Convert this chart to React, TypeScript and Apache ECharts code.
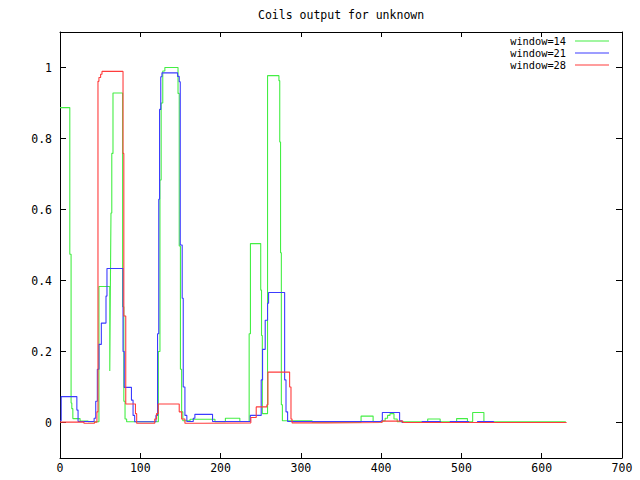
import React, { useEffect, useRef } from "react";
import * as echarts from "echarts";

const titleText = "Coils output for unknown";
const seriesNames = ["window=14", "window=21", "window=28"];
const seriesColors = ["#44ee44", "#3c3cff", "#ff3c3c"];

const xTicks = [0, 100, 200, 300, 400, 500, 600, 700];
const yTicks = [0, 0.2, 0.4, 0.6, 0.8, 1];

// step data: [x, y] = value y from x until next x
const w14: [number, number][] = [
  [0, 0.887], [12.2, 0.474], [13.8, 0.055], [14.7, 0.039], [16, 0.011], [25, 0.004], [35, 0.002],
  [48.5, 0.383], [62, 0.145], [62.7, 0.368], [63.5, 0.59], [64.5, 0.758], [66, 0.928],
  [78, 0.326], [79.5, 0.06], [81, 0.01], [83, 0.002],
  [122.5, 0.2], [124.5, 0.683], [126, 0.9], [128, 0.99], [130.6, 1.0],
  [147, 0.927], [148.5, 0.497], [150, 0.15], [151.5, 0.03], [153, 0.005],
  [162, 0.009], [193, 0.002], [206, 0.012], [224, 0.003],
  [235.6, 0.25], [237.2, 0.504], [250, 0.373], [251, 0.245], [252, 0.025],
  [258.5, 0.977], [272.7, 0.963], [273.7, 0.79], [274.7, 0.478], [275.7, 0.05], [277, 0.005],
  [314, 0.001], [375, 0.018], [390, 0.002],
  [402, 0.005], [405, 0.012], [408, 0.02], [411, 0.025], [416, 0.01], [420, 0.002],
  [458, 0.01], [473.5, 0.002], [494, 0.011], [507.5, 0.002], [514, 0.028], [528, 0.002],
  [630, 0.002],
];

const w21: [number, number][] = [
  [0, 0.005], [1.5, 0.073], [21, 0.035], [22.5, 0.003],
  [42.5, 0.012], [44.5, 0.06], [46.5, 0.15], [48.5, 0.22], [51.5, 0.28], [57.3, 0.356], [58.5, 0.434],
  [78.5, 0.2], [80, 0.099], [89, 0.063], [91, 0.02], [93, 0.002],
  [119.5, 0.02], [121.5, 0.25], [123, 0.629], [124, 0.882], [125.5, 0.974], [127, 0.985],
  [146.5, 0.975], [148.5, 0.96], [149.8, 0.5], [152.2, 0.35], [153.5, 0.1], [155.6, 0.02], [158, 0.003],
  [166, 0.012], [168, 0.023], [190, 0.003],
  [237, 0.02], [250.6, 0.12], [252.3, 0.206], [255.6, 0.288], [258.5, 0.336], [259.8, 0.366],
  [279.8, 0.12], [281.5, 0.03], [283.5, 0.003],
  [400, 0.005], [401.5, 0.028], [423, 0.005], [426, 0.0],
  [451, 0.003], [474, 0.0], [486, 0.003], [509, 0.0], [520, 0.003], [540, 0.0],
  [630, 0.0],
];

const w28: [number, number][] = [
  [0, 0.001], [29.8, -0.002], [43, 0.001], [46, 0.03], [47.3, 0.961], [48.5, 0.972], [50.6, 0.981], [52.3, 0.989],
  [78.5, 0.758], [79.5, 0.3], [81.9, 0.052], [94, 0.025], [95.5, -0.002],
  [118, 0.01], [120.2, 0.025], [122.3, 0.052], [148.5, 0.03], [151.5, 0.01], [155.6, -0.002],
  [180, -0.001], [237.7, 0.014], [244.4, 0.044], [257.7, 0.05], [259, 0.142],
  [286, 0.1], [287.7, 0.01], [289, -0.001],
  [330, 0.0], [401, 0.004], [427, 0.0], [631, 0.0],
];

const FONT = "DejaVu Sans Mono";

export default function App() {
  const ref = useRef<HTMLDivElement>(null);
  useEffect(() => {
    if (!ref.current) return;
    const chart = echarts.init(ref.current, undefined, { renderer: "svg" });
    const data = [w14, w21, w28];
    const axisLine = { show: true, onZero: false, lineStyle: { color: "#000", width: 1 } };
    chart.setOption({
      animation: false,
      backgroundColor: "#fff",
      title: {
        text: titleText,
        left: 258,
        top: 9,
        padding: 0,
        textStyle: { fontFamily: FONT, fontSize: 11.5, fontWeight: "normal", color: "#000" },
      },
      legend: {
        orient: "vertical",
        right: 31,
        top: 35,
        padding: 0,
        align: "right",
        icon: "rect",
        itemWidth: 34,
        itemHeight: 1,
        itemGap: 0,
        data: seriesNames,
        textStyle: { fontFamily: FONT, fontSize: 10.3, lineHeight: 12, color: "#000", padding: [0, 4, 0, 0] },
      },
      grid: { left: 60, right: 18, top: 32, bottom: 22, show: false },
      xAxis: [
        {
          type: "value",
          min: 0,
          max: 700,
          interval: 100,
          position: "bottom",
          axisLine,
          splitLine: { show: false },
          axisTick: { show: true, inside: true, length: 5, lineStyle: { color: "#000" } },
          axisLabel: { show: true, margin: 4, fontFamily: FONT, fontSize: 11.5, color: "#000" },
        },
        {
          type: "value",
          min: 0,
          max: 700,
          interval: 100,
          position: "top",
          axisLine,
          splitLine: { show: false },
          axisTick: { show: true, inside: true, length: 5, lineStyle: { color: "#000" } },
          axisLabel: { show: false },
        },
      ],
      yAxis: [
        {
          type: "value",
          min: -0.1,
          max: 1.1,
          position: "left",
          axisLine,
          splitLine: { show: false },
          axisTick: { show: true, inside: true, length: 6, lineStyle: { color: "#000" }, customValues: yTicks },
          axisLabel: {
            show: true,
            margin: 8,
            fontFamily: FONT,
            fontSize: 11.5,
            color: "#000",
            customValues: yTicks,
            formatter: (v: number) => String(Math.round(v * 10) / 10),
          },
        },
        {
          type: "value",
          min: -0.1,
          max: 1.1,
          position: "right",
          axisLine,
          splitLine: { show: false },
          axisTick: { show: true, inside: true, length: 6, lineStyle: { color: "#000" }, customValues: yTicks },
          axisLabel: { show: false, customValues: yTicks },
        },
      ],
      series: data.map((d, i) => ({
        name: seriesNames[i],
        type: "line",
        xAxisIndex: 0,
        yAxisIndex: 0,
        step: "end",
        symbol: "none",
        showSymbol: false,
        data: d,
        lineStyle: { color: seriesColors[i], width: 1.1 },
        itemStyle: { color: seriesColors[i] },
        clip: true,
      })),
    });
    return () => chart.dispose();
  }, []);
  return (
    <div
      ref={ref}
      style={{ position: "absolute", left: 0, top: 0, width: 640, height: 480, background: "#fff" }}
    />
  );
}
